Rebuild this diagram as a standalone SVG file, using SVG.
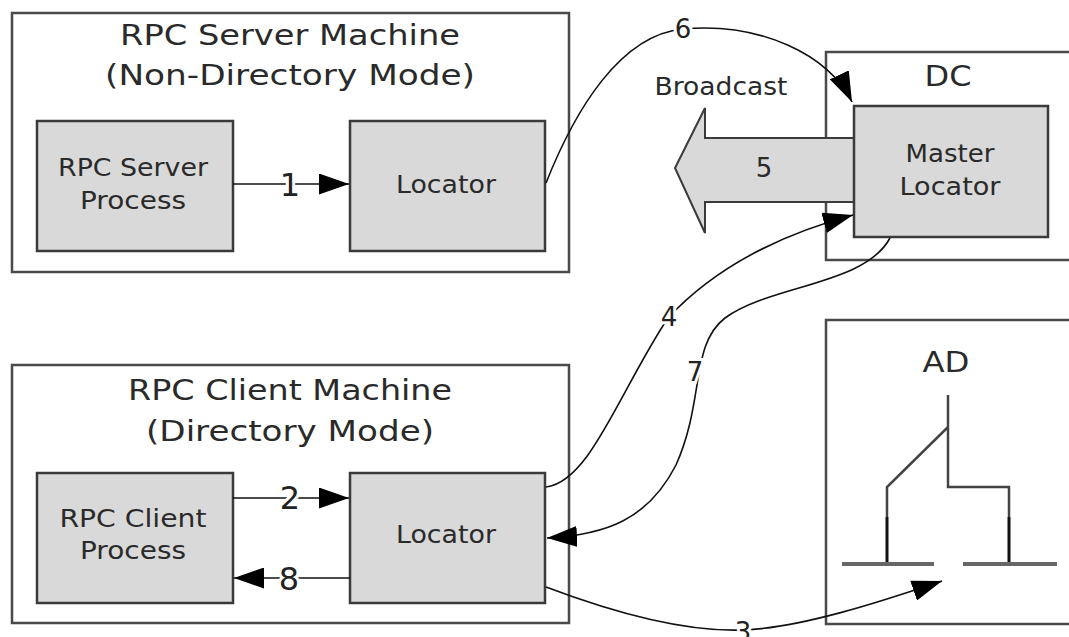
<svg xmlns="http://www.w3.org/2000/svg" width="1069" height="637" viewBox="0 0 1069 637">
<style>
.frame{fill:#fff;stroke:#4a4a4a;stroke-width:2.5}
.box{fill:#d9d9d9;stroke:#3a3a3a;stroke-width:2.5}
.t{font-family:"DejaVu Sans",Verdana,sans-serif;fill:#2a2a2a;text-anchor:middle}
.big{font-size:29px}
.mid{font-size:25px}
.lbl{font-size:32px;fill:#222;paint-order:stroke;stroke:#fff;stroke-width:6px}
.sm{font-size:26px}
.c{fill:none;stroke:#111;stroke-width:1.6}
.tree{fill:none;stroke:#444;stroke-width:2.5}
.stem{fill:none;stroke:#111;stroke-width:3}
.bar{fill:none;stroke:#666;stroke-width:4}
</style>
<defs>
<marker id="ah" viewBox="0 0 30 21" refX="30" refY="10.5" markerWidth="30" markerHeight="21" markerUnits="userSpaceOnUse" orient="auto">
<path d="M0,0 L30,10.5 L0,21 Z" fill="#000"/>
</marker>
</defs>
<rect width="1069" height="637" fill="#fff"/>

<g id="server-machine">
<rect class="frame" x="12" y="13" width="557" height="259"/>
<text class="t big" x="290" y="45" textLength="340" lengthAdjust="spacingAndGlyphs">RPC Server Machine</text>
<text class="t big" x="290" y="85" textLength="370" lengthAdjust="spacingAndGlyphs">(Non-Directory Mode)</text>
</g>
<g id="server-process">
<rect class="box" x="37" y="121" width="196" height="130"/>
<text class="t mid" x="133" y="176" textLength="150" lengthAdjust="spacingAndGlyphs">RPC Server</text>
<text class="t mid" x="133" y="209" textLength="106" lengthAdjust="spacingAndGlyphs">Process</text>
</g>
<g id="server-locator">
<rect class="box" x="350" y="121" width="195" height="130"/>
<text class="t mid" x="446" y="193" textLength="100" lengthAdjust="spacingAndGlyphs">Locator</text>
</g>

<g id="dc">
<rect class="frame" x="826" y="52" width="260" height="208"/>
<text class="t big" x="948" y="86" textLength="47" lengthAdjust="spacingAndGlyphs">DC</text>
</g>
<g id="broadcast">
<polygon points="856,138 705,138 705,108 675,168 705,233 705,202 856,202" fill="#d9d9d9" stroke="#3a3a3a" stroke-width="2"/>
<text class="t sm" x="764" y="177">5</text>
<text class="t mid" x="721" y="95" textLength="133" lengthAdjust="spacingAndGlyphs">Broadcast</text>
</g>
<g id="master-locator">
<rect class="box" x="854" y="106" width="194" height="131"/>
<text class="t mid" x="950" y="162" textLength="89" lengthAdjust="spacingAndGlyphs">Master</text>
<text class="t mid" x="950" y="195" textLength="101" lengthAdjust="spacingAndGlyphs">Locator</text>
</g>

<g id="client-machine">
<rect class="frame" x="12" y="365" width="557" height="258"/>
<text class="t big" x="290" y="400" textLength="324" lengthAdjust="spacingAndGlyphs">RPC Client Machine</text>
<text class="t big" x="290" y="441" textLength="288" lengthAdjust="spacingAndGlyphs">(Directory Mode)</text>
</g>
<g id="client-process">
<rect class="box" x="37" y="473" width="196" height="130"/>
<text class="t mid" x="133" y="527" textLength="147" lengthAdjust="spacingAndGlyphs">RPC Client</text>
<text class="t mid" x="133" y="559" textLength="106" lengthAdjust="spacingAndGlyphs">Process</text>
</g>
<g id="client-locator">
<rect class="box" x="350" y="473" width="195" height="130"/>
<text class="t mid" x="446" y="543" textLength="100" lengthAdjust="spacingAndGlyphs">Locator</text>
</g>

<g id="ad">
<rect class="frame" x="826" y="320" width="260" height="304"/>
<text class="t big" x="946" y="372" textLength="47" lengthAdjust="spacingAndGlyphs">AD</text>
<path class="tree" d="M948,395 V487 H1009 V517 M948,427 L887,487 V517"/>
<path class="stem" d="M887,517 V564 M1009,517 V564"/>
<path class="bar" d="M842,564 H934 M963,564 H1057"/>
</g>

<g id="connectors">
<path class="c" d="M233,184 H349" marker-end="url(#ah)"/>
<text class="t lbl" x="290" y="196">1</text>
<path class="c" d="M233,498 H349" marker-end="url(#ah)"/>
<text class="t lbl" x="290" y="509">2</text>
<path class="c" d="M350,578 H234" marker-end="url(#ah)"/>
<text class="t lbl" x="289" y="590">8</text>
<path class="c" d="M546,183 C575,110 620,35 683,29 C760,22 830,55 852,102" marker-end="url(#ah)"/>
<text class="t lbl sm" x="683" y="38">6</text>
<path class="c" d="M546,487 C590,482 620,390 668,318 C720,262 790,232 853,215" marker-end="url(#ah)"/>
<text class="t lbl sm" x="669" y="326">4</text>
<path class="c" d="M890,238 C865,285 770,285 725,318 C690,345 705,400 676,465 C648,520 605,535 547,538" marker-end="url(#ah)"/>
<text class="t lbl sm" x="695" y="381">7</text>
<path class="c" d="M546,587 C620,615 690,632 743,630 C800,628 880,602 942,581" marker-end="url(#ah)"/>
<text class="t lbl sm" x="743" y="641">3</text>
</g>
</svg>
